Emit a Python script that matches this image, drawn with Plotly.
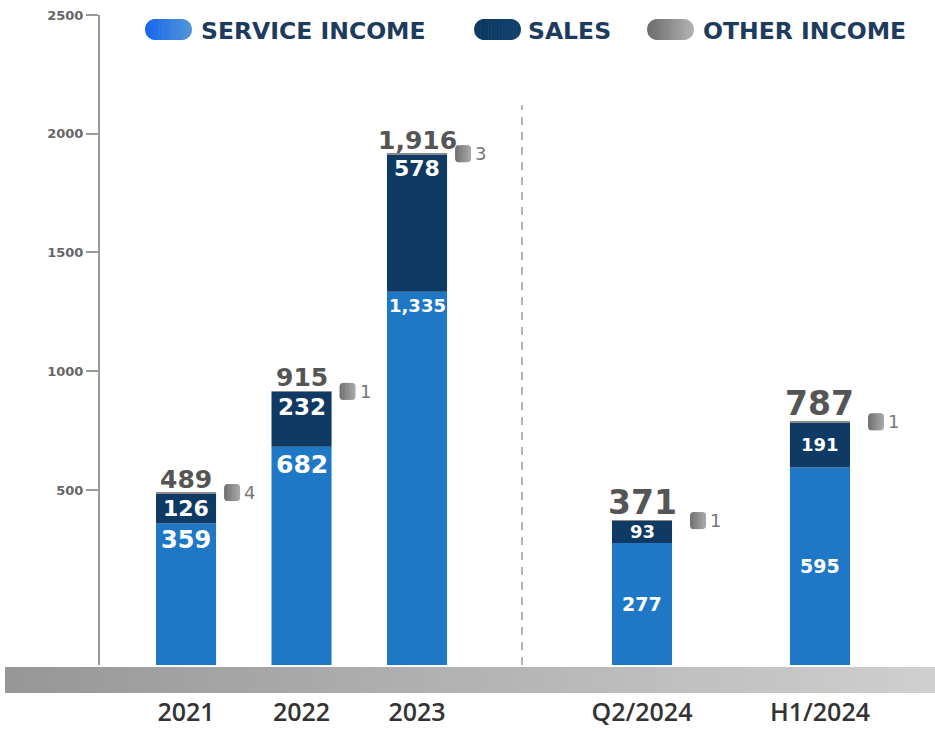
import math
import plotly.graph_objects as go

# ---------------- data ----------------
CATEGORIES = ["2021", "2022", "2023", "Q2/2024", "H1/2024"]
SERVICE_INCOME = [359, 682, 1335, 277, 595]
SALES = [126, 232, 578, 93, 191]
OTHER_INCOME = [4, 1, 3, 1, 1]
TOTALS = [489, 915, 1916, 371, 787]
Y_TICKS = [500, 1000, 1500, 2000, 2500]
SERIES_NAMES = ["SERVICE INCOME", "SALES", "OTHER INCOME"]

# ---------------- layout / style ----------------
W, H = 935, 731
ML, MR, MT, MB = 100, 0, 15, 66
PW, PH = W - ML - MR, H - MT - MB
X_POS = [0, 1, 2, 3.948, 5.489]
X_RANGE = [-0.745, 6.485]
BAR_W = 0.52
Y_FLOOR = -237
Y_RANGE = [Y_FLOOR, 2500]
DIVIDER_X = 2.909
DIVIDER_TOP = 2120
ANNUAL = [True, True, True, False, False]
TOTAL_SIZE = [25, 25, 25, 33, 33]
SERVICE_LABEL_SIZE = [24, 25, 18, 19, 19]
SALES_LABEL_SIZE = [22, 23, 22, 18, 18]
SQUARE_GAP = [8, 8, 8, 18, 18]

SERVICE_C = "#1f78c6"
SALES_C = "#0e3a64"
OTHER_C = "#8a8a8a"
FONT = "DejaVu Sans"


def px_x(px):
    return (px - ML) / PW


def px_y(py):
    return (H - MB - py) / PH


def hex2rgb(c):
    c = c.lstrip("#")
    return [int(c[i:i + 2], 16) for i in (0, 2, 4)]


def mix(c0, c1, f):
    a, b = hex2rgb(c0), hex2rgb(c1)
    return "rgb(%d,%d,%d)" % tuple(round(a[k] + (b[k] - a[k]) * f) for k in range(3))


def rounded_gradient(xref, yref, xanchor, yanchor, w, h, r, c0, c1, n=24, dx=0.0, dy=0.0):
    shapes = []

    def half(u):
        if u < r:
            t = r - u
            return h / 2 - r + math.sqrt(max(r * r - t * t, 0))
        if u > w - r:
            t = u - (w - r)
            return h / 2 - r + math.sqrt(max(r * r - t * t, 0))
        return h / 2

    for i in range(n):
        ua, ub = w * i / n, min(w, w * (i + 1) / n + 0.6)
        us = [ua + (ub - ua) * k / 4 for k in range(5)]
        top = [(u - w / 2 + dx, dy + half(u)) for u in us]
        bot = [(u - w / 2 + dx, dy - half(u)) for u in reversed(us)]
        path = "M " + " L ".join("%.2f,%.2f" % p for p in top + bot) + " Z"
        shapes.append(dict(type="path", xref=xref, yref=yref, xsizemode="pixel",
                           ysizemode="pixel", xanchor=xanchor, yanchor=yanchor,
                           path=path, fillcolor=mix(c0, c1, (i + 0.5) / n),
                           line=dict(width=0), layer="above"))
    return shapes


fig = go.Figure()

service_base = [Y_FLOOR] * len(CATEGORIES)
sales_base = list(SERVICE_INCOME)
other_base = [s + t for s, t in zip(SERVICE_INCOME, SALES)]

fig.add_trace(go.Bar(name=SERIES_NAMES[0], x=X_POS, y=[v - Y_FLOOR for v in SERVICE_INCOME],
                     base=service_base, width=BAR_W, marker=dict(color=SERVICE_C, line=dict(width=0)),
                     hoverinfo="skip"))
fig.add_trace(go.Bar(name=SERIES_NAMES[1], x=X_POS, y=SALES, base=sales_base, width=BAR_W,
                     marker=dict(color=SALES_C, line=dict(width=0)), hoverinfo="skip"))
fig.add_trace(go.Bar(name=SERIES_NAMES[2], x=X_POS, y=OTHER_INCOME, base=other_base, width=BAR_W,
                     marker=dict(color=OTHER_C, line=dict(width=0)), hoverinfo="skip"))

shapes = []
annotations = []

# bottom gradient band
NB = 60
bx0, bx1 = px_x(5), px_x(935)
for i in range(NB):
    xa = bx0 + (bx1 - bx0) * i / NB
    xb = bx0 + (bx1 - bx0) * (i + 1) / NB + 0.0008
    shapes.append(dict(type="rect", xref="paper", yref="paper", x0=xa, x1=min(xb, bx1),
                       y0=px_y(693), y1=px_y(667), fillcolor=mix("#979797", "#cfcfcf", (i + 0.5) / NB),
                       line=dict(width=0), layer="below"))

# divider
shapes.append(dict(type="line", xref="x", yref="y", x0=DIVIDER_X, x1=DIVIDER_X, y0=Y_FLOOR,
                   y1=DIVIDER_TOP, line=dict(color="#9a9a9a", width=1.5, dash="8px,7px")))

# legend
legend_items = [
    (SERIES_NAMES[0], 168.5, 199, "#1565ee", "#5196d6"),
    (SERIES_NAMES[1], 497.5, 526, "#0c3861", "#12416d"),
    (SERIES_NAMES[2], 670.5, 701, "#6a6a6a", "#b3b3b3"),
]
for name, cx, tx, c0, c1 in legend_items:
    shapes += rounded_gradient("paper", "paper", px_x(cx), px_y(29.5), 47, 21, 10.5, c0, c1, n=30)
    annotations.append(dict(xref="paper", yref="paper", x=px_x(tx), y=px_y(31), text=name,
                            showarrow=False, xanchor="left", yanchor="middle",
                            font=dict(family=FONT, size=23.5, color="#1d3b5c", weight=700)))

for i, cat in enumerate(CATEGORIES):
    xp = X_POS[i]
    # totals
    annotations.append(dict(x=xp, y=TOTALS[i], xref="x", yref="y", text=f"{TOTALS[i]:,}",
                            showarrow=False, yanchor="bottom", yshift=-3,
                            font=dict(family=FONT, size=TOTAL_SIZE[i], color="#555555", weight=700)))
    # inner labels
    if ANNUAL[i]:
        annotations.append(dict(x=xp, y=SERVICE_INCOME[i], text=f"{SERVICE_INCOME[i]:,}", showarrow=False,
                                yanchor="top", yshift=-1,
                                font=dict(family=FONT, size=SERVICE_LABEL_SIZE[i], color="white", weight=700)))
        annotations.append(dict(x=xp, y=SERVICE_INCOME[i] + SALES[i], text=f"{SALES[i]:,}", showarrow=False,
                                yanchor="top", yshift=0,
                                font=dict(family=FONT, size=SALES_LABEL_SIZE[i], color="white", weight=700)))
    else:
        annotations.append(dict(x=xp, y=(Y_FLOOR + SERVICE_INCOME[i]) / 2, text=f"{SERVICE_INCOME[i]:,}",
                                showarrow=False, yanchor="middle",
                                font=dict(family=FONT, size=SERVICE_LABEL_SIZE[i], color="white", weight=700)))
        annotations.append(dict(x=xp, y=SERVICE_INCOME[i] + SALES[i] / 2, text=f"{SALES[i]:,}",
                                showarrow=False, yanchor="middle",
                                font=dict(family=FONT, size=SALES_LABEL_SIZE[i], color="white", weight=700)))
    # other income marker
    gap = SQUARE_GAP[i]
    shapes += rounded_gradient("x", "y", xp + BAR_W / 2, TOTALS[i], 16, 17, 3.5,
                               "#6e6e6e", "#ababab", n=12, dx=gap + 8)
    annotations.append(dict(x=xp + BAR_W / 2, y=TOTALS[i], text=str(OTHER_INCOME[i]), showarrow=False,
                            xanchor="left", yanchor="middle", xshift=gap + 18,
                            font=dict(family=FONT, size=18, color="#777777")))

fig.update_layout(
    width=W, height=H,
    margin=dict(l=ML, r=MR, t=MT, b=MB, autoexpand=False),
    barmode="overlay",
    showlegend=False,
    plot_bgcolor="white",
    paper_bgcolor="white",
    shapes=shapes,
    annotations=annotations,
    xaxis=dict(range=X_RANGE, tickvals=X_POS, ticktext=CATEGORIES, showline=False, showgrid=False,
               zeroline=False, ticks="outside", ticklen=25, tickcolor="rgba(0,0,0,0)", automargin=False,
               tickfont=dict(family="Open Sans", size=25, color="#333333", weight=600), fixedrange=True),
    yaxis=dict(range=Y_RANGE, tickvals=Y_TICKS, ticktext=[str(t) for t in Y_TICKS], showline=True,
               linecolor="#9a9a9a", linewidth=2, ticks="outside", ticklen=12, tickwidth=1.5,
               tickcolor="#9a9a9a", showgrid=False, zeroline=False, automargin=False,
               tickfont=dict(family=FONT, size=13, color="#666666", weight=700), fixedrange=True),
)

fig.write_html("out.html", config={"displayModeBar": False},
               post_script="document.body.style.margin='0px';document.body.style.overflow='hidden';")
